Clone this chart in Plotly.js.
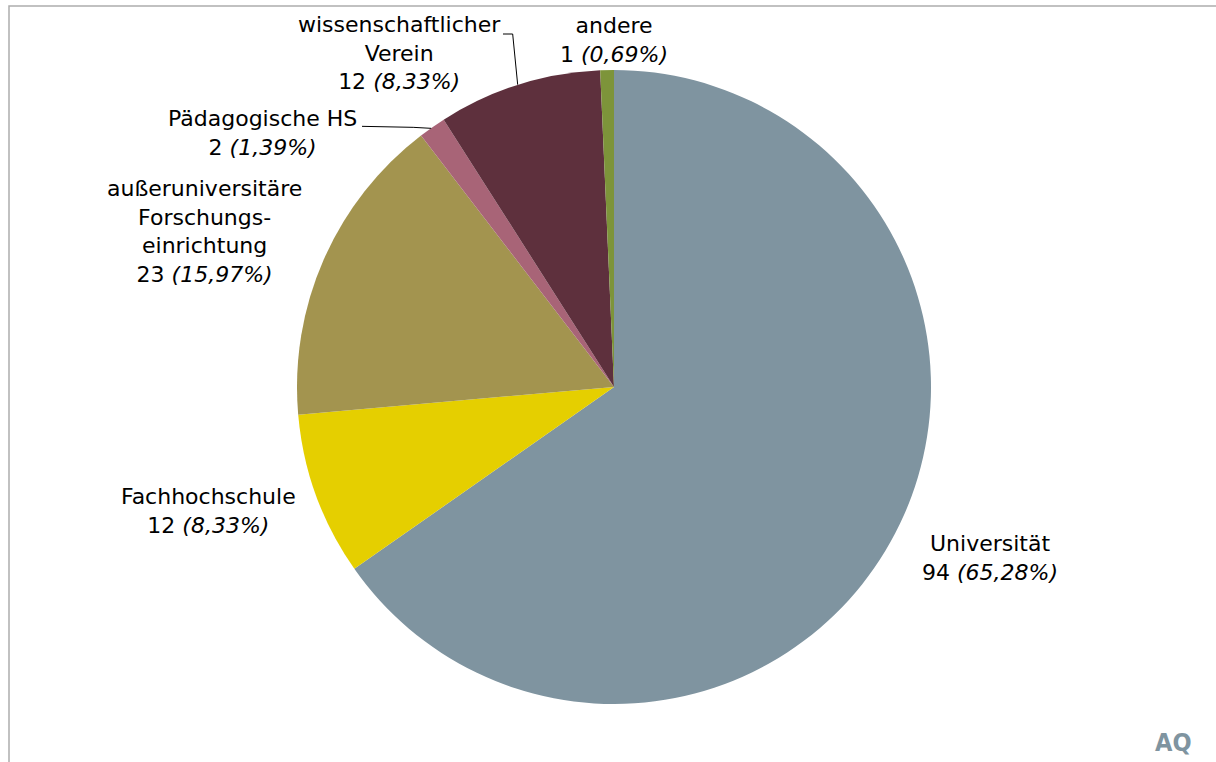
<!DOCTYPE html>
<html>
<head>
<meta charset="utf-8">
<script src="https://cdn.plot.ly/plotly-3.0.1.min.js"></script>
<style>
  html, body { margin: 0; padding: 0; background: #ffffff; }
  #chart { width: 1216px; height: 762px; }
</style>
</head>
<body>
<div id="chart"></div>
<script>
// ---- data ----
const categories = ["Universität", "Fachhochschule", "außeruniversitäre Forschungseinrichtung", "Pädagogische HS", "wissenschaftlicher Verein", "andere"];
const displayLabels = ["Universität", "Fachhochschule", "außeruniversitäre<br>Forschungs-<br>einrichtung", "Pädagogische HS", "wissenschaftlicher<br>Verein", "andere"];
const counts = [94, 12, 23, 2, 12, 1];
const sliceColors = ["#7F94A0", "#E5CF00", "#A3944F", "#A86477", "#5E303D", "#7D943A"];

// ---- layout (pixels) ----
const W = 1216, H = 762;
const CX = 614, CY = 387, R = 317;
// label block offset from slice's outer-edge midpoint (px)
const labelOffsets = [[95, 25], [-108, 16], [-119, -28], [-170, 6], [-119, -32], [7, -30]];
const fontFamily = "Verdana, 'DejaVu Sans', sans-serif";

const total = counts.reduce((a, b) => a + b, 0);
const px = x => x / W;
const py = y => 1 - y / H;

// edge midpoints computed from the data (clockwise from 12 o'clock)
let cum = 0;
const edges = counts.map(v => {
  const a = (cum + v / 2) / total * 2 * Math.PI;
  cum += v;
  return [CX + R * Math.sin(a), CY - R * Math.cos(a)];
});

const annotations = counts.map((v, i) => {
  const pct = (v / total * 100).toFixed(2).replace('.', ',');
  const [ex, ey] = edges[i];
  return {
    xref: 'paper', yref: 'paper',
    x: px(ex + labelOffsets[i][0]), y: py(ey + labelOffsets[i][1]),
    xanchor: 'center', yanchor: 'middle', align: 'center',
    showarrow: false,
    text: displayLabels[i] + '<br>' + v + ' <i>(' + pct + '%)</i>',
    font: {family: fontFamily, size: 22, color: '#000000'}
  };
});
annotations.push({
  xref: 'paper', yref: 'paper', x: px(1173), y: py(742),
  xanchor: 'center', yanchor: 'middle', showarrow: false,
  text: '<b>AQ</b>',
  font: {family: "'DejaVu Sans Condensed', 'DejaVu Sans', sans-serif", size: 25, color: '#7F94A0'}
});

// leader lines for the small slices (Pädagogische HS, wissenschaftlicher Verein)
function pathFromPts(pts) {
  return pts.map((p, k) => (k ? 'L ' : 'M ') + px(p[0]).toFixed(5) + ' ' + py(p[1]).toFixed(5)).join(' ');
}
const [pX, pY] = edges[3];
const [vX, vY] = edges[4];
const shapes = [
  {type: 'path', xref: 'paper', yref: 'paper',
   path: pathFromPts([[pX - 1, pY + 1], [pX - 19, pY], [362, pY - 1]]),
   line: {color: '#000000', width: 1}},
  {type: 'path', xref: 'paper', yref: 'paper',
   path: pathFromPts([[vX - 1, vY], [vX - 6, 34], [503, 34]]),
   line: {color: '#000000', width: 1}},
  {type: 'rect', xref: 'paper', yref: 'paper',
   x0: px(9), y0: py(770), x1: px(1224), y1: py(6),
   line: {color: '#ADADAD', width: 1.5}, fillcolor: 'rgba(0,0,0,0)'}
];

const trace = {
  type: 'pie',
  labels: categories,
  values: counts,
  sort: false,
  direction: 'clockwise',
  rotation: 0,
  textinfo: 'none',
  hoverinfo: 'label+value+percent',
  marker: {colors: sliceColors, line: {width: 0}},
  domain: {x: [px(CX - R), px(CX + R)], y: [py(CY + R), py(CY - R)]},
  showlegend: false
};

Plotly.newPlot('chart', [trace], {
  width: W, height: H,
  margin: {l: 0, r: 0, t: 0, b: 0},
  paper_bgcolor: '#ffffff',
  plot_bgcolor: '#ffffff',
  annotations: annotations,
  shapes: shapes
}, {displayModeBar: false, staticPlot: true});
</script>
</body>
</html>
